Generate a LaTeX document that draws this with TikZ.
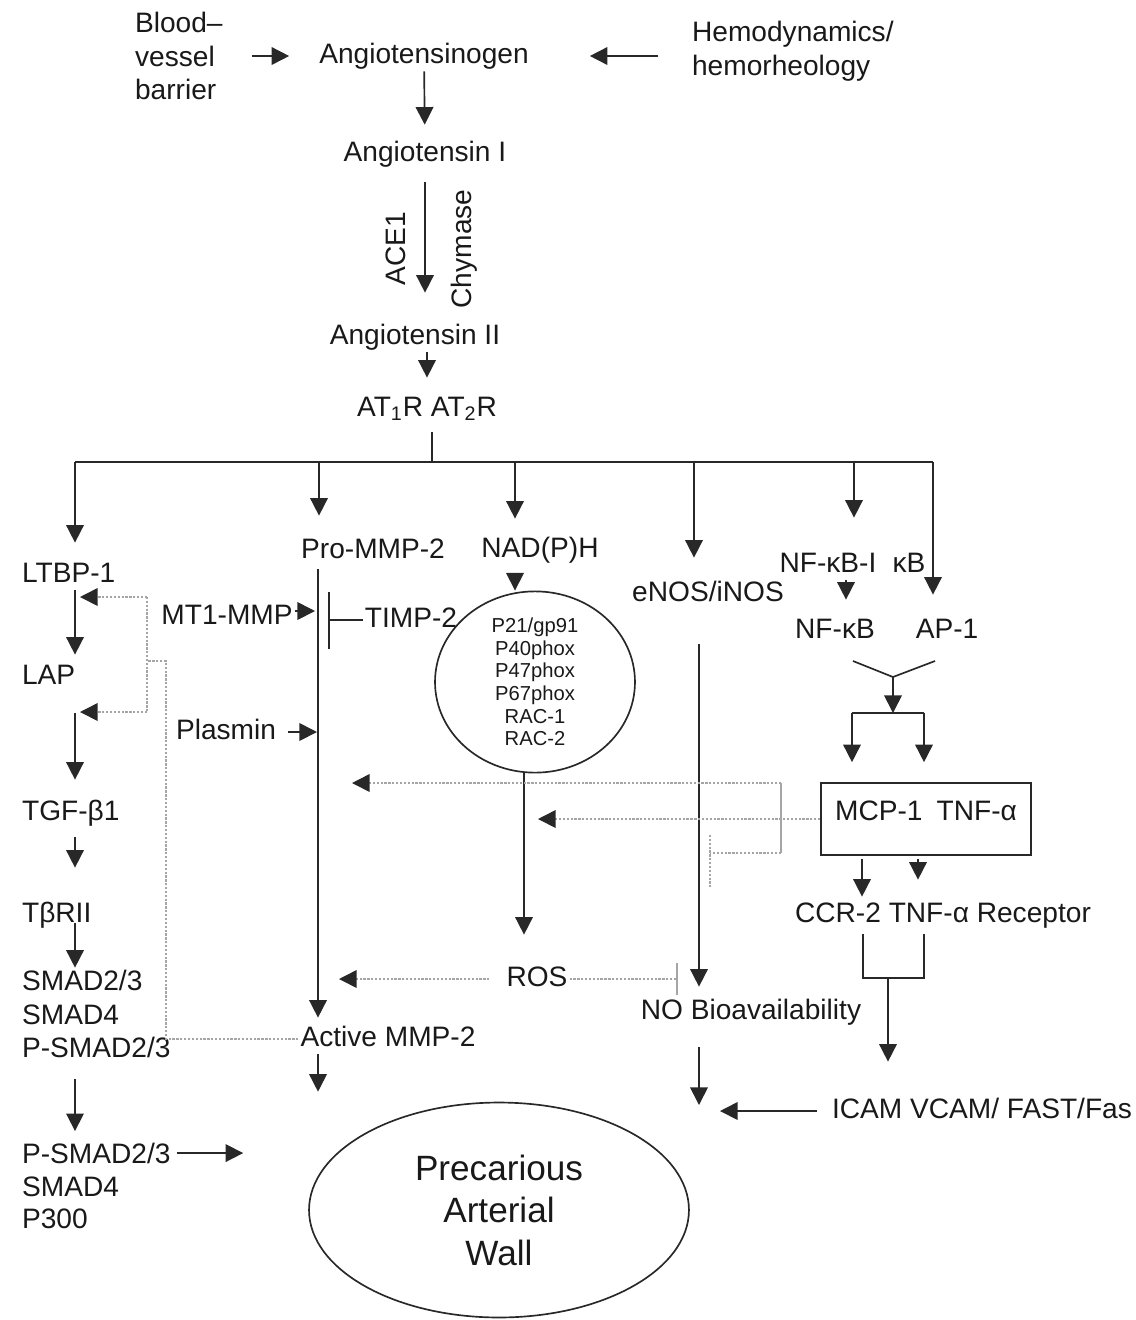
\documentclass[tikz,border=0pt]{standalone}
\usepackage{fontspec}
\setmainfont{Liberation Sans}
\usetikzlibrary{arrows.meta, positioning, shapes.geometric}
\definecolor{ink}{RGB}{25,25,25}
\definecolor{edge}{RGB}{40,40,40}
\definecolor{faint}{RGB}{165,165,165}
\tikzset{
    txt/.style={font=\fontsize{16}{19.3}\selectfont, text=ink, inner sep=1pt},
    lbl/.style={txt, text height=11.7pt, text depth=3.4pt},
    stack/.style={txt, align=left},
    line/.style={draw=edge, line width=0.95pt},
    arr/.style={line, -{Triangle[width=10pt, length=10pt]}},
    dline/.style={draw=faint, line width=0.9pt, dash pattern=on 1.3pt off 0.9pt},
    darr/.style={dline, -{Triangle[width=10pt, length=10pt, color=edge, fill=edge]}},
    blunt/.style={line, -{Bar[width=#1]}},
    oval/.style={ellipse, draw=edge, line width=0.95pt, inner sep=0pt, align=center, text=ink}
}

\begin{document}
\begin{tikzpicture}[x=0.02cm, y=-0.02cm]
  \useasboundingbox (0,0) rectangle (1136,1320);

  \node[stack, anchor=west] (blood) at (133,56) {Blood–\\vessel\\barrier};
  \node[lbl] (ag) at (424,56) {Angiotensinogen};
  \node[stack, anchor=west] (hemo) at (690,51) {Hemodynamics/\\hemorheology};
  \node[lbl] (a1) at (425,154) {Angiotensin I};
  \node[lbl, rotate=90] (ace) at (398,249) {ACE1};
  \node[lbl, rotate=90] (chy) at (464,249) {Chymase};
  \node[lbl] (a2) at (415,337) {Angiotensin II};
  \node[lbl] (at) at (427,409) {AT\textsubscript{1}R AT\textsubscript{2}R};

  \coordinate (hub) at (432,462);
  \coordinate (d1) at (75,462);
  \coordinate (d2) at (319,462);
  \coordinate (d3) at (515,462);
  \coordinate (d4) at (694,462);
  \coordinate (d5) at (854,462);
  \coordinate (d6) at (933,462);

  \node[lbl, anchor=west] (ltbp) at (20,575) {LTBP-1};
  \node[lbl, anchor=west] (lap) at (20,677) {LAP};
  \node[lbl, anchor=west] (tgf) at (20,813) {TGF-β1};
  \node[lbl, anchor=west] (tbr) at (20,915) {TβRII};
  \node[stack, anchor=west] (smad) at (20,1014) {SMAD2/3\\SMAD4\\P-SMAD2/3};
  \node[stack, anchor=west, font=\fontsize{16}{18.5}\selectfont] (psmad) at (20,1186) {P-SMAD2/3\\SMAD4\\P300};

  \node[lbl] (prom) at (373,551) {Pro-MMP-2};
  \node[lbl] (mt1) at (227,617) {MT1-MMP};
  \node[lbl] (timp) at (411,620) {TIMP-2};
  \node[lbl] (plas) at (226,732) {Plasmin};
  \node[lbl] (act) at (388,1039) {Active MMP-2};

  \node[lbl] (nadph) at (540,550) {NAD(P)H};
  \node[oval, minimum width=4cm, minimum height=3.18cm, font=\fontsize{11.5}{12.9}\selectfont] (nox) at (535,682)
    {P21/gp91\\P40phox\\P47phox\\P67phox\\RAC-1\\RAC-2};
  \node[lbl] (ros) at (537,979) {ROS};

  \node[lbl] (enos) at (708,594) {eNOS/iNOS};
  \node[lbl] (nob) at (751,1012) {NO Bioavailability};

  \node[lbl] (nfkbi) at (828,565) {NF-κB-I};
  \node[lbl] (kb) at (909,565) {κB};
  \node[lbl] (nfkb) at (835,631) {NF-κB};
  \node[lbl] (ap1) at (947,631) {AP-1};
  \node[txt, draw=edge, line width=0.95pt, minimum width=4.2cm, minimum height=1.44cm, inner sep=0pt,
        text height=11.7pt, text depth=10.4pt] (mcp) at (926,819) {MCP-1\enspace TNF-α};
  \node[lbl] (ccr) at (943,915) {CCR-2 TNF-α Receptor};
  \node[lbl, anchor=east] (icam) at (1134,1111) {ICAM VCAM/ FAST/Fas};

  \node[oval, minimum width=7.6cm, minimum height=4.3cm, font=\fontsize{20}{24.2}\selectfont] (wall) at (499,1210)
    {Precarious\\Arterial\\Wall};

  \coordinate (mline) at ([xshift=-1.1cm]prom.south);
  \coordinate (eline) at ([xshift=-0.18cm]enos.south);
  \coordinate (rline) at ([xshift=-0.22cm]nox.south);
  \coordinate (win) at (eline |- icam);

  \draw
  (blood) edge[arr, shorten <=0.54cm, shorten >=0.56cm] (ag)
  (hemo.west |- ag) edge[arr, shorten <=0.64cm, shorten >=1.18cm] (ag)
  (ag) edge[arr, shorten >=0.28cm] (a1)
  (a1.south) edge[arr, shorten <=0.26cm, shorten >=0.58cm] (a1.south |- a2.north)
  (a2.south -| at) edge[arr, shorten >=0.32cm] (at.north)
  (at.south -| hub) edge[line, shorten <=0.16cm] (hub)
  (d1) edge[line] (d6)
  ;

  \draw
  (d1) edge[arr, shorten >=0.34cm] (d1 |- ltbp.north)
  (d2) edge[arr, shorten >=0.4cm] (d2 |- prom.north)
  (d3) edge[arr, shorten >=0.32cm] (d3 |- nadph.north)
  (d4) edge[arr, shorten >=0.42cm] (d4 |- enos.north)
  (d5) edge[arr, shorten >=0.64cm] (d5 |- nfkbi.north)
  (d6) edge[arr, shorten >=0.42cm] (d6 |- ap1.north)
  ;

  \draw
  (ltbp.south -| d1) edge[arr, shorten >=0.14cm] (d1 |- lap.north)
  (lap.south -| d1) edge[arr, shorten <=0.42cm, shorten >=0.36cm] (d1 |- tgf.north)
  (tgf.south -| d1) edge[arr, shorten <=0.18cm, shorten >=0.64cm] (d1 |- tbr.north)
  (tbr.south -| d1) edge[arr, shorten <=-0.14cm] (d1 |- smad.north)
  (smad.south -| d1) edge[arr, shorten <=0.38cm, shorten >=0.2cm] (d1 |- psmad.north)
  ([yshift=-0.24cm]psmad.north east) edge[arr, shorten <=0.08cm, shorten >=1.3cm] ([yshift=-0.24cm]psmad.north east -| wall.west)
  ;

  \draw
  (mline) edge[arr, shorten <=0.06cm, shorten >=0.12cm] (mline |- act.north)
  ([xshift=-1.4cm]act.south) edge[arr, shorten >=0.2cm] ([xshift=-1.4cm]act.south |- wall.north)
  ([yshift=0.12cm]mt1.east) edge[arr, shorten >=0.06cm] ([yshift=0.12cm]mt1.east -| mline)
  (timp.west) edge[blunt=1.14cm, shorten >=0.2cm] (timp.west -| mline)
  (plas.east) edge[arr, shorten <=0.2cm, shorten >=0.02cm] (plas.east -| mline)
  ;

  \draw
  (nadph.south -| d3) edge[arr, shorten <=0.16cm] (d3 |- nox.north)
  (rline) edge[arr, shorten >=0.58cm] (rline |- ros.north)
  (ros.west) edge[darr, shorten <=0.3cm, shorten >=0.42cm] (ros.west -| mline)
  (ros.east) edge[dline, -{Bar[width=0.64cm]}, shorten >=0.42cm] (ros.east -| eline)
  (eline) edge[arr, shorten <=0.7cm, shorten >=0.2cm] (eline |- nob.north)
  (nob.south -| eline) edge[arr, shorten <=0.4cm, shorten >=0.12cm] (win)
  (icam) edge[arr, shorten <=0.26cm, shorten >=0.42cm] (win)
  ;

  \coordinate (yl) at (853,661);
  \coordinate (yr) at (935,661);
  \coordinate (yj) at (893,677);
  \coordinate (fk) at (893,713);
  \coordinate (fl) at (852,713);
  \coordinate (fr) at (924,713);
  \draw[line] (yl) -- (yj) -- (yr);
  \draw[line] (fl) -- (fr);
  \draw
  ([xshift=0.36cm]nfkbi.south) edge[arr, shorten >=0.32cm] ([xshift=0.36cm]nfkbi.south |- nfkb.north)
  (yj) edge[arr] (fk)
  (fl) edge[arr, shorten >=0.4cm] (fl |- mcp.north)
  (fr) edge[arr, shorten >=0.4cm] (fr |- mcp.north)
  ([xshift=-1.28cm]mcp.south) edge[arr, shorten <=0.06cm, shorten >=0.06cm] ([xshift=-1.28cm]mcp.south |- ccr.north)
  ([xshift=-0.16cm]mcp.south) edge[arr, shorten <=0.06cm, shorten >=0.4cm] ([xshift=-0.16cm]mcp.south |- ccr.north)
  ;

  \coordinate (cl) at (863,934);
  \coordinate (cr) at (924,934);
  \coordinate (cm) at (888,978);
  \draw[line] (cl) |- (cm) -| (cr);
  \draw (cm) edge[arr, shorten >=0.68cm] (cm |- icam.north);

  \coordinate (bt) at (781,783);
  \coordinate (bb) at (781,853);
  \coordinate (tb) at (710,853);
  \draw[line, draw=faint] (bt) -- (bb);
  \draw
  (mcp.west) edge[darr, shorten >=0.28cm] (mcp.west -| rline)
  (bt) edge[darr, shorten >=0.68cm] (bt -| mline)
  (bb) edge[dline] (tb)
  ;
  \draw[dline] ([yshift=0.36cm]tb) -- ([yshift=-0.68cm]tb);

  \coordinate (lj) at (166,661);
  \coordinate (lb) at (147,661);
  \coordinate (lt) at (147,597);
  \coordinate (lbm) at (147,712);
  \draw[dline] (act.west) -| (lj) -- (lb);
  \draw[dline] (lt) -- (lbm);
  \draw
  (lt) edge[darr, shorten >=0.1cm] (lt -| d1)
  (lbm) edge[darr, shorten >=0.1cm] (lbm -| d1)
  ;
\end{tikzpicture}
\end{document}
